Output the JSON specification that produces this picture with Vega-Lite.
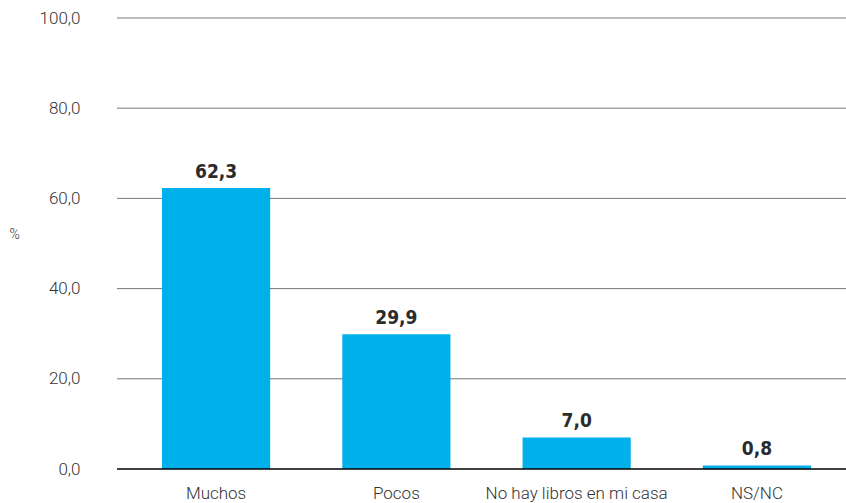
{
  "$schema": "https://vega.github.io/schema/vega-lite/v6.json",
  "width": 729,
  "height": 451,
  "autosize": {"type": "none"},
  "padding": {"left": 117, "top": 18, "right": 0, "bottom": 34},
  "background": "white",
  "data": {"values": [
    {"cat": "Muchos", "v": 62.3},
    {"cat": "Pocos", "v": 29.9},
    {"cat": "No hay libros en mi casa", "v": 7.0},
    {"cat": "NS/NC", "v": 0.8}
  ]},
  "config": {
    "view": {"stroke": null},
    "font": "Roboto"
  },
  "encoding": {
    "x": {
      "field": "cat", "type": "nominal", "sort": null,
      "scale": {"paddingInner": 0.4, "paddingOuter": 0, "range": [45, 694]},
      "axis": {
        "title": null, "labelAngle": 0, "ticks": false, "domain": false,
        "labelFont": "Roboto", "labelFontSize": 17, "labelFontWeight": 300, "labelColor": "#333333",
        "labelPadding": 16, "labelLimit": 0
      }
    },
    "y": {
      "field": "v", "type": "quantitative",
      "scale": {"domain": [0, 100]},
      "axis": {
        "values": [0, 20, 40, 60, 80, 100],
        "format": ".1f",
        "labelExpr": "replace(datum.label, '.', ',')",
        "ticks": false, "domain": false, "grid": false,
        "labelFont": "Roboto", "labelFontSize": 17, "labelFontWeight": 300, "labelColor": "#333333",
        "labelPadding": 37,
        "title": "%", "titleAngle": 0, "titleFont": "Roboto", "titleFontSize": 14,
        "titleFontWeight": 300, "titleColor": "#333333",
        "titleX": -108, "titleY": 216, "titleAlign": "left", "titleBaseline": "middle"
      }
    }
  },
  "layer": [
    {
      "data": {"values": [{"g": 20}, {"g": 40}, {"g": 60}, {"g": 80}, {"g": 100}]},
      "mark": {"type": "rule", "color": "#777777", "strokeWidth": 1},
      "encoding": {"y": {"field": "g", "type": "quantitative"}, "x": {"value": 0}, "x2": {"value": 729}}
    },
    {"mark": {"type": "bar", "color": "#00B0EA"}},
    {
      "mark": {"type": "text", "dy": -6, "baseline": "bottom", "font": "DejaVu Sans Condensed, Roboto", "fontWeight": "bold", "fontSize": 19, "color": "#2b2b2b"},
      "encoding": {"text": {"field": "lbl", "type": "nominal"}},
      "transform": [{"calculate": "replace(format(datum.v, '.1f'), '.', ',')", "as": "lbl"}]
    },
    {
      "data": {"values": [{"z": 0}]},
      "mark": {"type": "rule", "color": "#000000", "strokeWidth": 1.5},
      "encoding": {"y": {"field": "z", "type": "quantitative"}, "x": {"value": 0}, "x2": {"value": 729}}
    }
  ]
}
